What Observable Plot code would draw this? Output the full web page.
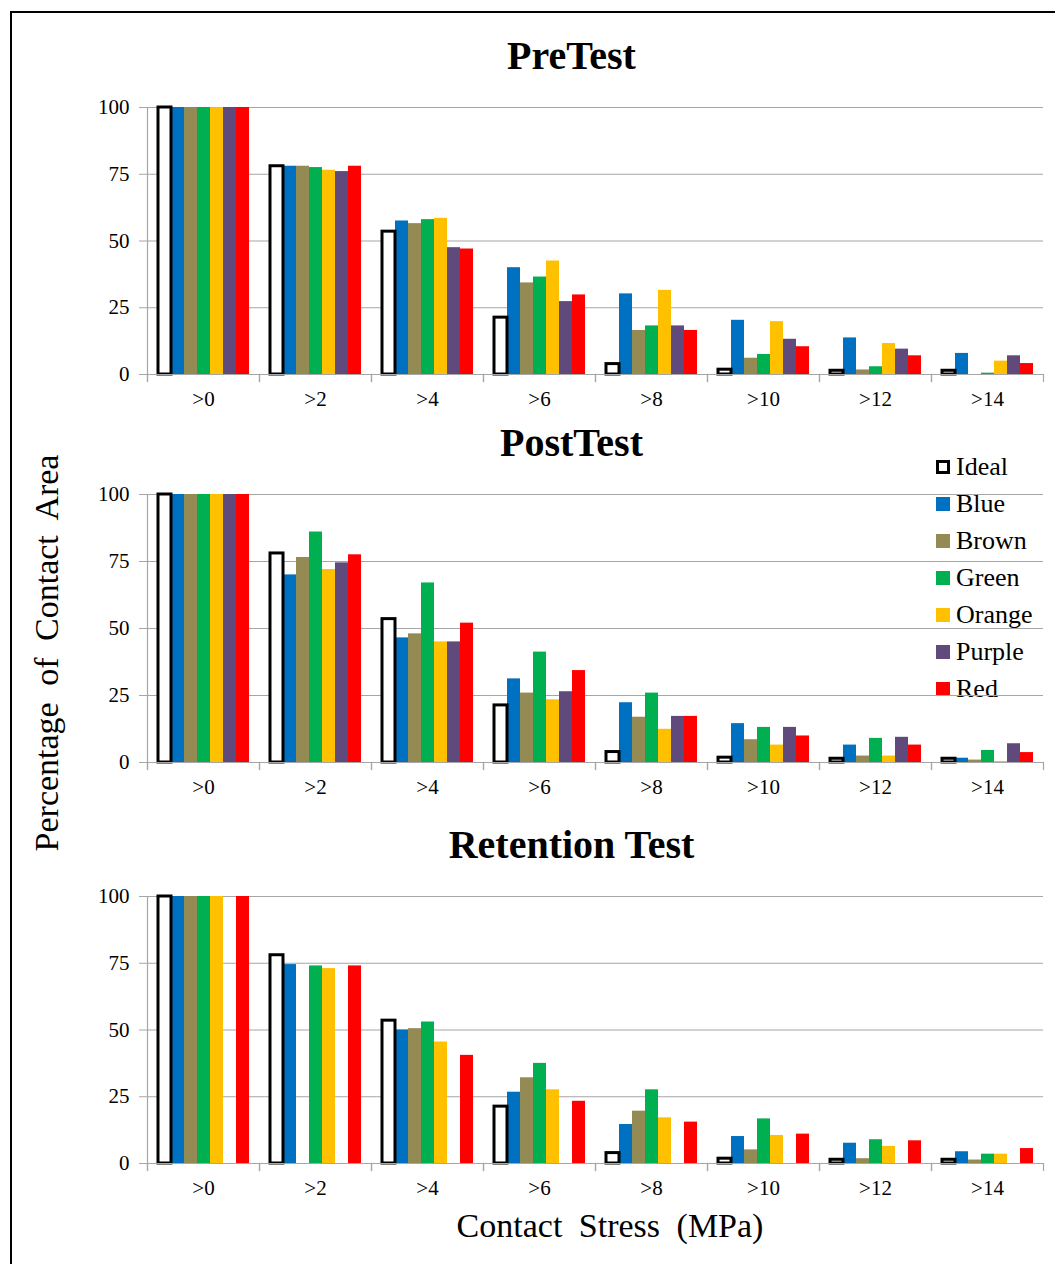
<!DOCTYPE html>
<html>
<head>
<meta charset="utf-8">
<script src="https://cdn.jsdelivr.net/npm/d3@7"></script>
<script src="https://cdn.jsdelivr.net/npm/@observablehq/plot@0.6"></script>
<style>
  body { margin: 0; background: #fff; }
  #wrap { position: relative; width: 1055px; height: 1264px; overflow: hidden; background: #fff;
          font-family: "Liberation Serif", "Times New Roman", serif; color: #000; }
  #border { position: absolute; left: 10px; top: 11px; width: 1100px; height: 1300px;
            border: 2px solid #000; box-sizing: border-box; }
  .panel { position: absolute; left: 0; }
  .title { position: absolute; left: 0; width: 1143px; text-align: center; font-weight: bold;
           font-size: 40px; line-height: 1; }
  #ylabel { position: absolute; left: 47px; top: 653px; font-size: 34px; word-spacing: 8px;
            transform: translate(-50%, -50%) rotate(-90deg); white-space: nowrap; line-height: 1; }
  #xlabel { position: absolute; left: 610px; top: 1226px; font-size: 34px; word-spacing: 8px;
            transform: translate(-50%, -50%); white-space: nowrap; line-height: 1; }
  #legend { position: absolute; left: 936px; top: 448px; font-size: 26px; line-height: 37px; }
  #legend .item { display: flex; align-items: center; height: 37px; }
  #legend .sw { width: 14px; height: 14px; box-sizing: border-box; margin-right: 6px; }
</style>
</head>
<body>
<div id="wrap">
  <div id="border"></div>
  <div class="title" style="top:36px">PreTest</div>
  <div class="title" style="top:423px">PostTest</div>
  <div class="title" style="top:825px">Retention Test</div>
  <div id="ylabel">Percentage of Contact Area</div>
  <div id="xlabel">Contact Stress (MPa)</div>
  <div id="legend"></div>
</div>
<script>
const categories = [">0", ">2", ">4", ">6", ">8", ">10", ">12", ">14"];
const series = ["Ideal", "Blue", "Brown", "Green", "Orange", "Purple", "Red"];
const seriesColors = ["#ffffff", "#0070c0", "#948a54", "#00b050", "#ffc000", "#604a7b", "#ff0000"];
const yTicks = [0, 25, 50, 75, 100];

// Ideal distribution (same in all three tests)
const ideal = [100, 78, 53.5, 21.3, 3.9, 1.8, 1.4, 1.4];

// PreTest
const preBlue   = [100, 78, 57.5, 40, 30.2, 20.3, 13.7, 7.9];
const preBrown  = [100, 78, 56.5, 34.3, 16.5, 6.1, 1.7, 0];
const preGreen  = [100, 77.5, 58, 36.5, 18.2, 7.5, 2.9, 0.5];
const preOrange = [100, 76.5, 58.5, 42.5, 31.5, 19.8, 11.6, 5.0];
const prePurple = [100, 76, 47.5, 27.3, 18.2, 13.2, 9.5, 7.0];
const preRed    = [100, 78, 47, 29.8, 16.5, 10.4, 7.0, 4.1];

// PostTest
const postBlue   = [100, 70, 46.5, 31.2, 22.3, 14.5, 6.5, 1.6];
const postBrown  = [100, 76.5, 48, 25.9, 16.9, 8.5, 2.4, 0.9];
const postGreen  = [100, 86, 67, 41.2, 25.9, 13.1, 9.0, 4.5];
const postOrange = [100, 72, 45, 23.4, 12.4, 6.5, 2.4, 0.4];
const postPurple = [100, 74.5, 45, 26.4, 17.2, 13.1, 9.4, 7.0];
const postRed    = [100, 77.5, 52, 34.3, 17.2, 9.9, 6.5, 3.7];

// Retention Test (null = no bar)
const retBlue   = [100, 74.5, 50, 26.7, 14.6, 10.1, 7.6, 4.4];
const retBrown  = [100, null, 50.5, 32.1, 19.6, 5.1, 1.8, 1.3];
const retGreen  = [100, 74, 53, 37.5, 27.6, 16.7, 8.9, 3.5];
const retOrange = [100, 73, 45.5, 27.6, 17.1, 10.5, 6.4, 3.5];
const retPurple = [null, null, null, null, null, null, null, null];
const retRed    = [100, 74, 40.5, 23.3, 15.5, 11.0, 8.5, 5.6];

const colorOf = Object.fromEntries(series.map((s, i) => [s, seriesColors[i]]));

function rows(arrays) {
  const out = [];
  series.forEach((s, si) => {
    arrays[si].forEach((v, ci) => {
      if (v != null) out.push({cat: categories[ci], series: s, value: v});
    });
  });
  return out;
}

const panels = [
  {top: 90,  inner: 267, data: rows([ideal, preBlue, preBrown, preGreen, preOrange, prePurple, preRed])},
  {top: 477, inner: 268, data: rows([ideal, postBlue, postBrown, postGreen, postOrange, postPurple, postRed])},
  {top: 879, inner: 267, data: rows([ideal, retBlue, retBrown, retGreen, retOrange, retPurple, retRed])}
];

const gray = "#a6a6a6";
const wrap = document.getElementById("wrap");

panels.forEach(p => {
  const mt = 17, mb = 45;
  const chart = Plot.plot({
    width: 1055,
    height: mt + p.inner + mb,
    marginLeft: 147, marginRight: 12, marginTop: mt, marginBottom: mb,
    style: {fontFamily: '"Liberation Serif", "Times New Roman", serif', fontSize: "21px", background: "transparent", color: "#000", overflow: "visible"},
    fx: {domain: categories, padding: 0, label: null, axis: null},
    x: {domain: series, paddingInner: 0, paddingOuter: 0.68, axis: null},
    y: {domain: [0, 100], axis: null},
    marks: [
      Plot.ruleY(yTicks.filter(t => t > 0), {stroke: gray, strokeWidth: 1.2}),
      Plot.barY(p.data.filter(d => d.series !== "Ideal"), {fx: "cat", x: "series", y: "value", fill: d => colorOf[d.series]}),
      Plot.barY(p.data.filter(d => d.series === "Ideal"), {fx: "cat", x: "series", y: "value", fill: "white", stroke: "black", strokeWidth: 3}),
      Plot.ruleY([0], {stroke: gray, strokeWidth: 1.2}),
      Plot.frame({anchor: "left", stroke: gray, strokeWidth: 1.2, facetAnchor: "left", insetBottom: -7}),
      Plot.frame({anchor: "left", stroke: gray, strokeWidth: 1.2, insetTop: p.inner, insetBottom: -7}),
      Plot.frame({anchor: "right", stroke: gray, strokeWidth: 1.2, insetTop: p.inner, insetBottom: -7}),
      Plot.axisY({ticks: yTicks, tickSize: 8, tickPadding: 10, stroke: gray, fill: "#000", label: null}),
      Plot.axisFx({anchor: "bottom", tickSize: 0, tickPadding: 17, fill: "#000", label: null})
    ]
  });
  chart.classList.add("panel");
  chart.style.top = p.top + "px";
  wrap.appendChild(chart);
});

// Legend
const legend = document.getElementById("legend");
series.forEach((s, i) => {
  const item = document.createElement("div");
  item.className = "item";
  const sw = document.createElement("div");
  sw.className = "sw";
  if (s === "Ideal") { sw.style.background = "#fff"; sw.style.border = "3px solid #000"; }
  else { sw.style.background = seriesColors[i]; }
  const t = document.createElement("span");
  t.textContent = s;
  item.appendChild(sw); item.appendChild(t);
  legend.appendChild(item);
});
</script>
</body>
</html>
